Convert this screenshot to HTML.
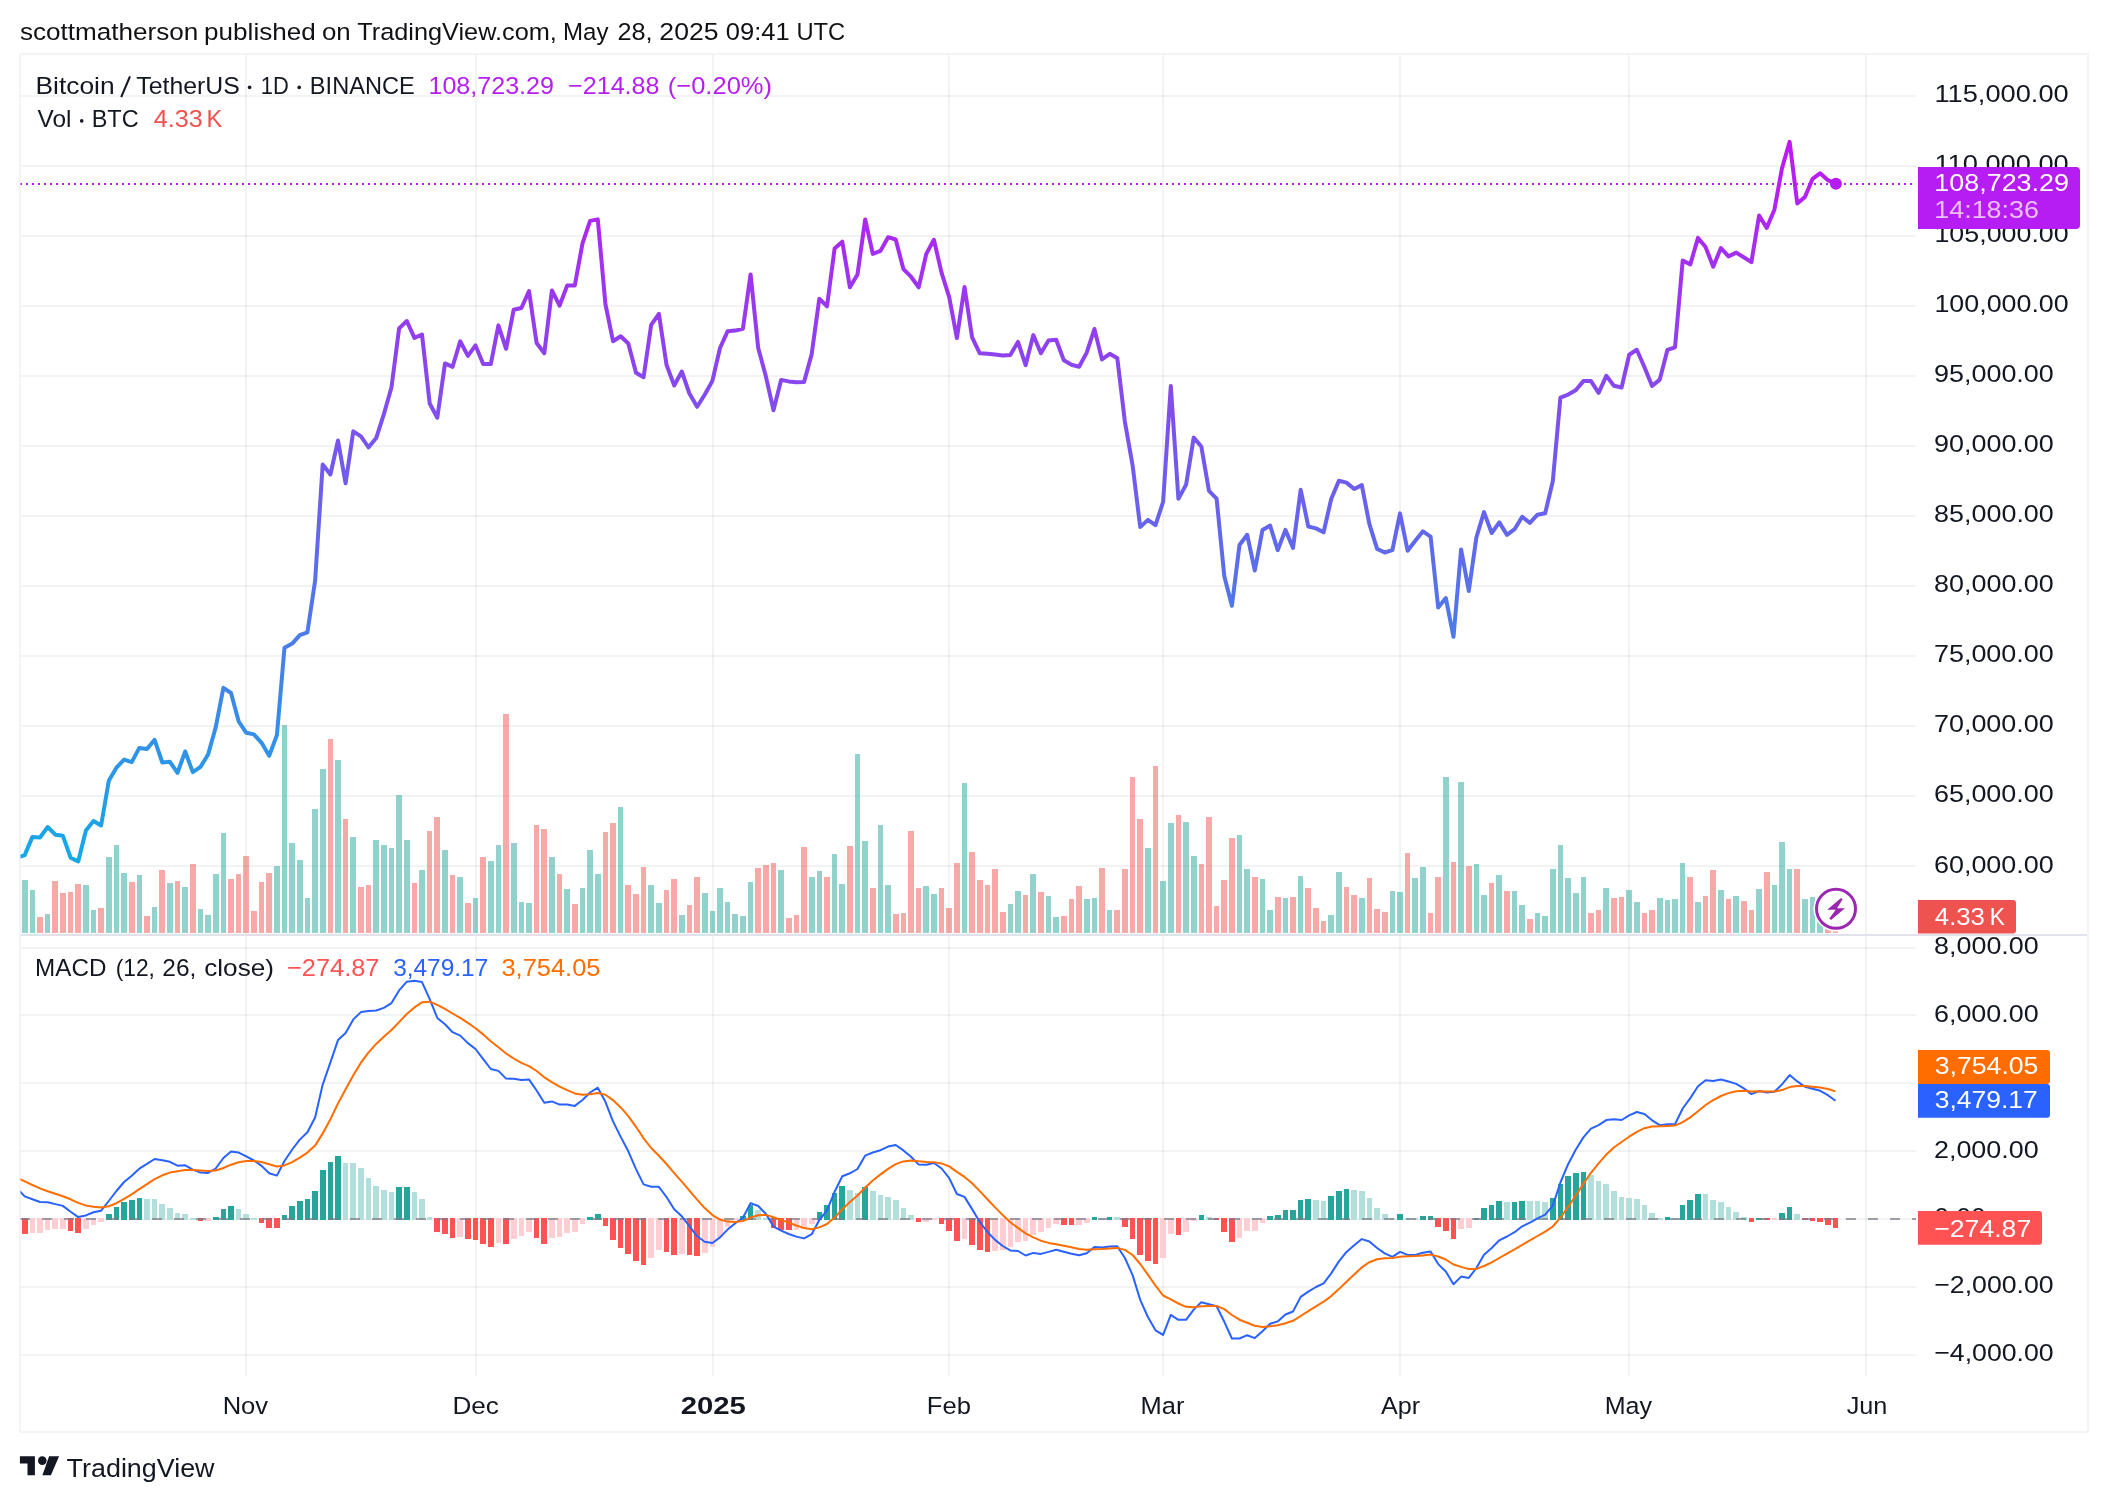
<!DOCTYPE html>
<html><head><meta charset="utf-8"><title>BTCUSDT chart</title>
<style>html,body{margin:0;padding:0;background:#fff;}body{width:2108px;height:1502px;overflow:hidden;font-family:"Liberation Sans",sans-serif;}svg{display:block;will-change:transform;}</style></head>
<body>
<svg width="2108" height="1502" viewBox="0 0 2108 1502" font-family="'Liberation Sans', sans-serif">
<defs>
<linearGradient id="pg" gradientUnits="userSpaceOnUse" x1="0" y1="55" x2="0" y2="934"><stop offset="0" stop-color="#D406F3"/><stop offset="1" stop-color="#04B8E5"/></linearGradient>
<clipPath id="cp"><rect x="20.5" y="55" width="1895.5" height="879"/></clipPath>
<clipPath id="cm"><rect x="20.5" y="936" width="1895.5" height="440"/></clipPath>
</defs>
<rect width="2108" height="1502" fill="#fff"/>
<rect x="21" y="865" width="1895" height="2" fill="rgba(42,46,57,0.06)"/>
<rect x="21" y="795" width="1895" height="2" fill="rgba(42,46,57,0.06)"/>
<rect x="21" y="725" width="1895" height="2" fill="rgba(42,46,57,0.06)"/>
<rect x="21" y="655" width="1895" height="2" fill="rgba(42,46,57,0.06)"/>
<rect x="21" y="585" width="1895" height="2" fill="rgba(42,46,57,0.06)"/>
<rect x="21" y="515" width="1895" height="2" fill="rgba(42,46,57,0.06)"/>
<rect x="21" y="445" width="1895" height="2" fill="rgba(42,46,57,0.06)"/>
<rect x="21" y="375" width="1895" height="2" fill="rgba(42,46,57,0.06)"/>
<rect x="21" y="305" width="1895" height="2" fill="rgba(42,46,57,0.06)"/>
<rect x="21" y="235" width="1895" height="2" fill="rgba(42,46,57,0.06)"/>
<rect x="21" y="165" width="1895" height="2" fill="rgba(42,46,57,0.06)"/>
<rect x="21" y="95" width="1895" height="2" fill="rgba(42,46,57,0.06)"/>
<rect x="21" y="1354" width="1895" height="2" fill="rgba(42,46,57,0.06)"/>
<rect x="21" y="1286" width="1895" height="2" fill="rgba(42,46,57,0.06)"/>
<rect x="21" y="1218" width="1895" height="2" fill="rgba(42,46,57,0.06)"/>
<rect x="21" y="1150" width="1895" height="2" fill="rgba(42,46,57,0.06)"/>
<rect x="21" y="1082" width="1895" height="2" fill="rgba(42,46,57,0.06)"/>
<rect x="21" y="1014" width="1895" height="2" fill="rgba(42,46,57,0.06)"/>
<rect x="21" y="947" width="1895" height="2" fill="rgba(42,46,57,0.06)"/>
<rect x="245" y="55" width="2" height="1321" fill="rgba(42,46,57,0.06)"/>
<rect x="475" y="55" width="2" height="1321" fill="rgba(42,46,57,0.06)"/>
<rect x="712" y="55" width="2" height="1321" fill="rgba(42,46,57,0.06)"/>
<rect x="948" y="55" width="2" height="1321" fill="rgba(42,46,57,0.06)"/>
<rect x="1162" y="55" width="2" height="1321" fill="rgba(42,46,57,0.06)"/>
<rect x="1399" y="55" width="2" height="1321" fill="rgba(42,46,57,0.06)"/>
<rect x="1628" y="55" width="2" height="1321" fill="rgba(42,46,57,0.06)"/>
<rect x="1865" y="55" width="2" height="1321" fill="rgba(42,46,57,0.06)"/>
<rect x="20" y="54" width="2068" height="1378" fill="none" stroke="#F4F4F5" stroke-width="2"/>
<rect x="21" y="934" width="2066" height="2" fill="#E0E3EB"/>
<g clip-path="url(#cp)" shape-rendering="crispEdges">
<rect x="14" y="884" width="6" height="49" fill="#EF5350" fill-opacity="0.5"/>
<rect x="22" y="880" width="6" height="53" fill="#26A69A" fill-opacity="0.5"/>
<rect x="30" y="890" width="5" height="43" fill="#26A69A" fill-opacity="0.5"/>
<rect x="37" y="917" width="6" height="16" fill="#EF5350" fill-opacity="0.5"/>
<rect x="45" y="914" width="5" height="19" fill="#26A69A" fill-opacity="0.5"/>
<rect x="52" y="881" width="6" height="52" fill="#EF5350" fill-opacity="0.5"/>
<rect x="60" y="893" width="6" height="40" fill="#EF5350" fill-opacity="0.5"/>
<rect x="68" y="892" width="5" height="41" fill="#EF5350" fill-opacity="0.5"/>
<rect x="75" y="884" width="6" height="49" fill="#EF5350" fill-opacity="0.5"/>
<rect x="83" y="885" width="6" height="48" fill="#26A69A" fill-opacity="0.5"/>
<rect x="91" y="910" width="5" height="23" fill="#26A69A" fill-opacity="0.5"/>
<rect x="98" y="908" width="6" height="25" fill="#EF5350" fill-opacity="0.5"/>
<rect x="106" y="857" width="6" height="76" fill="#26A69A" fill-opacity="0.5"/>
<rect x="114" y="845" width="5" height="88" fill="#26A69A" fill-opacity="0.5"/>
<rect x="121" y="873" width="6" height="60" fill="#26A69A" fill-opacity="0.5"/>
<rect x="129" y="882" width="6" height="51" fill="#EF5350" fill-opacity="0.5"/>
<rect x="137" y="875" width="5" height="58" fill="#26A69A" fill-opacity="0.5"/>
<rect x="144" y="916" width="6" height="17" fill="#EF5350" fill-opacity="0.5"/>
<rect x="152" y="907" width="5" height="26" fill="#26A69A" fill-opacity="0.5"/>
<rect x="159" y="870" width="6" height="63" fill="#EF5350" fill-opacity="0.5"/>
<rect x="167" y="883" width="6" height="50" fill="#26A69A" fill-opacity="0.5"/>
<rect x="175" y="881" width="5" height="52" fill="#EF5350" fill-opacity="0.5"/>
<rect x="182" y="887" width="6" height="46" fill="#26A69A" fill-opacity="0.5"/>
<rect x="190" y="864" width="6" height="69" fill="#EF5350" fill-opacity="0.5"/>
<rect x="198" y="909" width="5" height="24" fill="#26A69A" fill-opacity="0.5"/>
<rect x="205" y="915" width="6" height="18" fill="#26A69A" fill-opacity="0.5"/>
<rect x="213" y="874" width="6" height="59" fill="#26A69A" fill-opacity="0.5"/>
<rect x="221" y="833" width="5" height="100" fill="#26A69A" fill-opacity="0.5"/>
<rect x="228" y="879" width="6" height="54" fill="#EF5350" fill-opacity="0.5"/>
<rect x="236" y="874" width="5" height="59" fill="#EF5350" fill-opacity="0.5"/>
<rect x="243" y="856" width="6" height="77" fill="#EF5350" fill-opacity="0.5"/>
<rect x="251" y="911" width="6" height="22" fill="#EF5350" fill-opacity="0.5"/>
<rect x="259" y="882" width="5" height="51" fill="#EF5350" fill-opacity="0.5"/>
<rect x="266" y="873" width="6" height="60" fill="#EF5350" fill-opacity="0.5"/>
<rect x="274" y="866" width="6" height="67" fill="#26A69A" fill-opacity="0.5"/>
<rect x="282" y="725" width="5" height="208" fill="#26A69A" fill-opacity="0.5"/>
<rect x="289" y="843" width="6" height="90" fill="#26A69A" fill-opacity="0.5"/>
<rect x="297" y="860" width="6" height="73" fill="#26A69A" fill-opacity="0.5"/>
<rect x="305" y="898" width="5" height="35" fill="#26A69A" fill-opacity="0.5"/>
<rect x="312" y="809" width="6" height="124" fill="#26A69A" fill-opacity="0.5"/>
<rect x="320" y="769" width="6" height="164" fill="#26A69A" fill-opacity="0.5"/>
<rect x="328" y="739" width="5" height="194" fill="#EF5350" fill-opacity="0.5"/>
<rect x="335" y="760" width="6" height="173" fill="#26A69A" fill-opacity="0.5"/>
<rect x="343" y="819" width="5" height="114" fill="#EF5350" fill-opacity="0.5"/>
<rect x="350" y="837" width="6" height="96" fill="#26A69A" fill-opacity="0.5"/>
<rect x="358" y="887" width="6" height="46" fill="#EF5350" fill-opacity="0.5"/>
<rect x="366" y="885" width="5" height="48" fill="#EF5350" fill-opacity="0.5"/>
<rect x="373" y="840" width="6" height="93" fill="#26A69A" fill-opacity="0.5"/>
<rect x="381" y="845" width="6" height="88" fill="#26A69A" fill-opacity="0.5"/>
<rect x="389" y="848" width="5" height="85" fill="#26A69A" fill-opacity="0.5"/>
<rect x="396" y="795" width="6" height="138" fill="#26A69A" fill-opacity="0.5"/>
<rect x="404" y="840" width="6" height="93" fill="#26A69A" fill-opacity="0.5"/>
<rect x="412" y="883" width="5" height="50" fill="#EF5350" fill-opacity="0.5"/>
<rect x="419" y="870" width="6" height="63" fill="#26A69A" fill-opacity="0.5"/>
<rect x="427" y="831" width="5" height="102" fill="#EF5350" fill-opacity="0.5"/>
<rect x="434" y="817" width="6" height="116" fill="#EF5350" fill-opacity="0.5"/>
<rect x="442" y="850" width="6" height="83" fill="#26A69A" fill-opacity="0.5"/>
<rect x="450" y="875" width="5" height="58" fill="#EF5350" fill-opacity="0.5"/>
<rect x="457" y="877" width="6" height="56" fill="#26A69A" fill-opacity="0.5"/>
<rect x="465" y="903" width="6" height="30" fill="#EF5350" fill-opacity="0.5"/>
<rect x="473" y="898" width="5" height="35" fill="#26A69A" fill-opacity="0.5"/>
<rect x="480" y="857" width="6" height="76" fill="#EF5350" fill-opacity="0.5"/>
<rect x="488" y="861" width="6" height="72" fill="#26A69A" fill-opacity="0.5"/>
<rect x="496" y="845" width="5" height="88" fill="#26A69A" fill-opacity="0.5"/>
<rect x="503" y="714" width="6" height="219" fill="#EF5350" fill-opacity="0.5"/>
<rect x="511" y="843" width="6" height="90" fill="#26A69A" fill-opacity="0.5"/>
<rect x="519" y="902" width="5" height="31" fill="#26A69A" fill-opacity="0.5"/>
<rect x="526" y="903" width="6" height="30" fill="#26A69A" fill-opacity="0.5"/>
<rect x="534" y="825" width="5" height="108" fill="#EF5350" fill-opacity="0.5"/>
<rect x="541" y="829" width="6" height="104" fill="#EF5350" fill-opacity="0.5"/>
<rect x="549" y="857" width="6" height="76" fill="#26A69A" fill-opacity="0.5"/>
<rect x="557" y="874" width="5" height="59" fill="#EF5350" fill-opacity="0.5"/>
<rect x="564" y="889" width="6" height="44" fill="#26A69A" fill-opacity="0.5"/>
<rect x="572" y="904" width="6" height="29" fill="#EF5350" fill-opacity="0.5"/>
<rect x="580" y="888" width="5" height="45" fill="#26A69A" fill-opacity="0.5"/>
<rect x="587" y="850" width="6" height="83" fill="#26A69A" fill-opacity="0.5"/>
<rect x="595" y="874" width="6" height="59" fill="#26A69A" fill-opacity="0.5"/>
<rect x="603" y="832" width="5" height="101" fill="#EF5350" fill-opacity="0.5"/>
<rect x="610" y="823" width="6" height="110" fill="#EF5350" fill-opacity="0.5"/>
<rect x="618" y="807" width="5" height="126" fill="#26A69A" fill-opacity="0.5"/>
<rect x="625" y="885" width="6" height="48" fill="#EF5350" fill-opacity="0.5"/>
<rect x="633" y="894" width="6" height="39" fill="#EF5350" fill-opacity="0.5"/>
<rect x="641" y="867" width="5" height="66" fill="#EF5350" fill-opacity="0.5"/>
<rect x="648" y="885" width="6" height="48" fill="#26A69A" fill-opacity="0.5"/>
<rect x="656" y="903" width="6" height="30" fill="#26A69A" fill-opacity="0.5"/>
<rect x="664" y="890" width="5" height="43" fill="#EF5350" fill-opacity="0.5"/>
<rect x="671" y="879" width="6" height="54" fill="#EF5350" fill-opacity="0.5"/>
<rect x="679" y="915" width="6" height="18" fill="#26A69A" fill-opacity="0.5"/>
<rect x="687" y="905" width="5" height="28" fill="#EF5350" fill-opacity="0.5"/>
<rect x="694" y="877" width="6" height="56" fill="#EF5350" fill-opacity="0.5"/>
<rect x="702" y="893" width="6" height="40" fill="#26A69A" fill-opacity="0.5"/>
<rect x="710" y="911" width="5" height="22" fill="#26A69A" fill-opacity="0.5"/>
<rect x="717" y="888" width="6" height="45" fill="#26A69A" fill-opacity="0.5"/>
<rect x="725" y="902" width="5" height="31" fill="#26A69A" fill-opacity="0.5"/>
<rect x="732" y="914" width="6" height="19" fill="#26A69A" fill-opacity="0.5"/>
<rect x="740" y="916" width="6" height="17" fill="#26A69A" fill-opacity="0.5"/>
<rect x="748" y="882" width="5" height="51" fill="#26A69A" fill-opacity="0.5"/>
<rect x="755" y="868" width="6" height="65" fill="#EF5350" fill-opacity="0.5"/>
<rect x="763" y="865" width="6" height="68" fill="#EF5350" fill-opacity="0.5"/>
<rect x="771" y="863" width="5" height="70" fill="#EF5350" fill-opacity="0.5"/>
<rect x="778" y="870" width="6" height="63" fill="#26A69A" fill-opacity="0.5"/>
<rect x="786" y="918" width="6" height="15" fill="#EF5350" fill-opacity="0.5"/>
<rect x="794" y="915" width="5" height="18" fill="#EF5350" fill-opacity="0.5"/>
<rect x="801" y="847" width="6" height="86" fill="#EF5350" fill-opacity="0.5"/>
<rect x="809" y="877" width="6" height="56" fill="#26A69A" fill-opacity="0.5"/>
<rect x="817" y="871" width="5" height="62" fill="#26A69A" fill-opacity="0.5"/>
<rect x="824" y="877" width="6" height="56" fill="#EF5350" fill-opacity="0.5"/>
<rect x="832" y="854" width="5" height="79" fill="#26A69A" fill-opacity="0.5"/>
<rect x="839" y="884" width="6" height="49" fill="#26A69A" fill-opacity="0.5"/>
<rect x="847" y="846" width="6" height="87" fill="#EF5350" fill-opacity="0.5"/>
<rect x="855" y="754" width="5" height="179" fill="#26A69A" fill-opacity="0.5"/>
<rect x="862" y="841" width="6" height="92" fill="#26A69A" fill-opacity="0.5"/>
<rect x="870" y="888" width="6" height="45" fill="#EF5350" fill-opacity="0.5"/>
<rect x="878" y="825" width="5" height="108" fill="#26A69A" fill-opacity="0.5"/>
<rect x="885" y="885" width="6" height="48" fill="#26A69A" fill-opacity="0.5"/>
<rect x="893" y="914" width="6" height="19" fill="#EF5350" fill-opacity="0.5"/>
<rect x="901" y="913" width="5" height="20" fill="#EF5350" fill-opacity="0.5"/>
<rect x="908" y="831" width="6" height="102" fill="#EF5350" fill-opacity="0.5"/>
<rect x="916" y="888" width="5" height="45" fill="#EF5350" fill-opacity="0.5"/>
<rect x="923" y="886" width="6" height="47" fill="#26A69A" fill-opacity="0.5"/>
<rect x="931" y="894" width="6" height="39" fill="#26A69A" fill-opacity="0.5"/>
<rect x="939" y="888" width="5" height="45" fill="#EF5350" fill-opacity="0.5"/>
<rect x="946" y="908" width="6" height="25" fill="#EF5350" fill-opacity="0.5"/>
<rect x="954" y="863" width="6" height="70" fill="#EF5350" fill-opacity="0.5"/>
<rect x="962" y="783" width="5" height="150" fill="#26A69A" fill-opacity="0.5"/>
<rect x="969" y="852" width="6" height="81" fill="#EF5350" fill-opacity="0.5"/>
<rect x="977" y="880" width="6" height="53" fill="#EF5350" fill-opacity="0.5"/>
<rect x="985" y="885" width="5" height="48" fill="#EF5350" fill-opacity="0.5"/>
<rect x="992" y="869" width="6" height="64" fill="#EF5350" fill-opacity="0.5"/>
<rect x="1000" y="912" width="6" height="21" fill="#EF5350" fill-opacity="0.5"/>
<rect x="1008" y="904" width="5" height="29" fill="#26A69A" fill-opacity="0.5"/>
<rect x="1015" y="891" width="6" height="42" fill="#26A69A" fill-opacity="0.5"/>
<rect x="1023" y="895" width="5" height="38" fill="#EF5350" fill-opacity="0.5"/>
<rect x="1030" y="874" width="6" height="59" fill="#26A69A" fill-opacity="0.5"/>
<rect x="1038" y="892" width="6" height="41" fill="#EF5350" fill-opacity="0.5"/>
<rect x="1046" y="896" width="5" height="37" fill="#26A69A" fill-opacity="0.5"/>
<rect x="1053" y="917" width="6" height="16" fill="#26A69A" fill-opacity="0.5"/>
<rect x="1061" y="916" width="6" height="17" fill="#EF5350" fill-opacity="0.5"/>
<rect x="1069" y="899" width="5" height="34" fill="#EF5350" fill-opacity="0.5"/>
<rect x="1076" y="886" width="6" height="47" fill="#EF5350" fill-opacity="0.5"/>
<rect x="1084" y="899" width="6" height="34" fill="#26A69A" fill-opacity="0.5"/>
<rect x="1092" y="898" width="5" height="35" fill="#26A69A" fill-opacity="0.5"/>
<rect x="1099" y="868" width="6" height="65" fill="#EF5350" fill-opacity="0.5"/>
<rect x="1107" y="910" width="5" height="23" fill="#26A69A" fill-opacity="0.5"/>
<rect x="1114" y="910" width="6" height="23" fill="#EF5350" fill-opacity="0.5"/>
<rect x="1122" y="869" width="6" height="64" fill="#EF5350" fill-opacity="0.5"/>
<rect x="1130" y="777" width="5" height="156" fill="#EF5350" fill-opacity="0.5"/>
<rect x="1137" y="819" width="6" height="114" fill="#EF5350" fill-opacity="0.5"/>
<rect x="1145" y="848" width="6" height="85" fill="#26A69A" fill-opacity="0.5"/>
<rect x="1153" y="766" width="5" height="167" fill="#EF5350" fill-opacity="0.5"/>
<rect x="1160" y="881" width="6" height="52" fill="#26A69A" fill-opacity="0.5"/>
<rect x="1168" y="823" width="6" height="110" fill="#26A69A" fill-opacity="0.5"/>
<rect x="1176" y="815" width="5" height="118" fill="#EF5350" fill-opacity="0.5"/>
<rect x="1183" y="822" width="6" height="111" fill="#26A69A" fill-opacity="0.5"/>
<rect x="1191" y="856" width="6" height="77" fill="#26A69A" fill-opacity="0.5"/>
<rect x="1199" y="864" width="5" height="69" fill="#EF5350" fill-opacity="0.5"/>
<rect x="1206" y="817" width="6" height="116" fill="#EF5350" fill-opacity="0.5"/>
<rect x="1214" y="906" width="5" height="27" fill="#EF5350" fill-opacity="0.5"/>
<rect x="1221" y="880" width="6" height="53" fill="#EF5350" fill-opacity="0.5"/>
<rect x="1229" y="838" width="6" height="95" fill="#EF5350" fill-opacity="0.5"/>
<rect x="1237" y="835" width="5" height="98" fill="#26A69A" fill-opacity="0.5"/>
<rect x="1244" y="869" width="6" height="64" fill="#26A69A" fill-opacity="0.5"/>
<rect x="1252" y="877" width="6" height="56" fill="#EF5350" fill-opacity="0.5"/>
<rect x="1260" y="879" width="5" height="54" fill="#26A69A" fill-opacity="0.5"/>
<rect x="1267" y="910" width="6" height="23" fill="#26A69A" fill-opacity="0.5"/>
<rect x="1275" y="897" width="6" height="36" fill="#EF5350" fill-opacity="0.5"/>
<rect x="1283" y="898" width="5" height="35" fill="#26A69A" fill-opacity="0.5"/>
<rect x="1290" y="897" width="6" height="36" fill="#EF5350" fill-opacity="0.5"/>
<rect x="1298" y="876" width="5" height="57" fill="#26A69A" fill-opacity="0.5"/>
<rect x="1305" y="888" width="6" height="45" fill="#EF5350" fill-opacity="0.5"/>
<rect x="1313" y="908" width="6" height="25" fill="#EF5350" fill-opacity="0.5"/>
<rect x="1321" y="921" width="5" height="12" fill="#EF5350" fill-opacity="0.5"/>
<rect x="1328" y="915" width="6" height="18" fill="#26A69A" fill-opacity="0.5"/>
<rect x="1336" y="872" width="6" height="61" fill="#26A69A" fill-opacity="0.5"/>
<rect x="1344" y="887" width="5" height="46" fill="#EF5350" fill-opacity="0.5"/>
<rect x="1351" y="895" width="6" height="38" fill="#EF5350" fill-opacity="0.5"/>
<rect x="1359" y="898" width="6" height="35" fill="#26A69A" fill-opacity="0.5"/>
<rect x="1367" y="878" width="5" height="55" fill="#EF5350" fill-opacity="0.5"/>
<rect x="1374" y="909" width="6" height="24" fill="#EF5350" fill-opacity="0.5"/>
<rect x="1382" y="912" width="6" height="21" fill="#EF5350" fill-opacity="0.5"/>
<rect x="1390" y="891" width="5" height="42" fill="#26A69A" fill-opacity="0.5"/>
<rect x="1397" y="892" width="6" height="41" fill="#26A69A" fill-opacity="0.5"/>
<rect x="1405" y="853" width="5" height="80" fill="#EF5350" fill-opacity="0.5"/>
<rect x="1412" y="878" width="6" height="55" fill="#26A69A" fill-opacity="0.5"/>
<rect x="1420" y="867" width="6" height="66" fill="#26A69A" fill-opacity="0.5"/>
<rect x="1428" y="913" width="5" height="20" fill="#EF5350" fill-opacity="0.5"/>
<rect x="1435" y="877" width="6" height="56" fill="#EF5350" fill-opacity="0.5"/>
<rect x="1443" y="777" width="6" height="156" fill="#26A69A" fill-opacity="0.5"/>
<rect x="1451" y="862" width="5" height="71" fill="#EF5350" fill-opacity="0.5"/>
<rect x="1458" y="782" width="6" height="151" fill="#26A69A" fill-opacity="0.5"/>
<rect x="1466" y="866" width="6" height="67" fill="#EF5350" fill-opacity="0.5"/>
<rect x="1474" y="864" width="5" height="69" fill="#26A69A" fill-opacity="0.5"/>
<rect x="1481" y="895" width="6" height="38" fill="#26A69A" fill-opacity="0.5"/>
<rect x="1489" y="883" width="5" height="50" fill="#EF5350" fill-opacity="0.5"/>
<rect x="1496" y="875" width="6" height="58" fill="#26A69A" fill-opacity="0.5"/>
<rect x="1504" y="891" width="6" height="42" fill="#EF5350" fill-opacity="0.5"/>
<rect x="1512" y="891" width="5" height="42" fill="#26A69A" fill-opacity="0.5"/>
<rect x="1519" y="905" width="6" height="28" fill="#26A69A" fill-opacity="0.5"/>
<rect x="1527" y="919" width="6" height="14" fill="#EF5350" fill-opacity="0.5"/>
<rect x="1535" y="913" width="5" height="20" fill="#26A69A" fill-opacity="0.5"/>
<rect x="1542" y="916" width="6" height="17" fill="#26A69A" fill-opacity="0.5"/>
<rect x="1550" y="869" width="6" height="64" fill="#26A69A" fill-opacity="0.5"/>
<rect x="1558" y="845" width="5" height="88" fill="#26A69A" fill-opacity="0.5"/>
<rect x="1565" y="878" width="6" height="55" fill="#26A69A" fill-opacity="0.5"/>
<rect x="1573" y="893" width="6" height="40" fill="#26A69A" fill-opacity="0.5"/>
<rect x="1581" y="877" width="5" height="56" fill="#26A69A" fill-opacity="0.5"/>
<rect x="1588" y="913" width="6" height="20" fill="#EF5350" fill-opacity="0.5"/>
<rect x="1596" y="910" width="5" height="23" fill="#EF5350" fill-opacity="0.5"/>
<rect x="1603" y="888" width="6" height="45" fill="#26A69A" fill-opacity="0.5"/>
<rect x="1611" y="898" width="6" height="35" fill="#EF5350" fill-opacity="0.5"/>
<rect x="1619" y="897" width="5" height="36" fill="#EF5350" fill-opacity="0.5"/>
<rect x="1626" y="890" width="6" height="43" fill="#26A69A" fill-opacity="0.5"/>
<rect x="1634" y="902" width="6" height="31" fill="#26A69A" fill-opacity="0.5"/>
<rect x="1642" y="913" width="5" height="20" fill="#EF5350" fill-opacity="0.5"/>
<rect x="1649" y="910" width="6" height="23" fill="#EF5350" fill-opacity="0.5"/>
<rect x="1657" y="898" width="6" height="35" fill="#26A69A" fill-opacity="0.5"/>
<rect x="1665" y="900" width="5" height="33" fill="#26A69A" fill-opacity="0.5"/>
<rect x="1672" y="899" width="6" height="34" fill="#26A69A" fill-opacity="0.5"/>
<rect x="1680" y="863" width="5" height="70" fill="#26A69A" fill-opacity="0.5"/>
<rect x="1687" y="877" width="6" height="56" fill="#EF5350" fill-opacity="0.5"/>
<rect x="1695" y="902" width="6" height="31" fill="#26A69A" fill-opacity="0.5"/>
<rect x="1703" y="896" width="5" height="37" fill="#EF5350" fill-opacity="0.5"/>
<rect x="1710" y="870" width="6" height="63" fill="#EF5350" fill-opacity="0.5"/>
<rect x="1718" y="890" width="6" height="43" fill="#26A69A" fill-opacity="0.5"/>
<rect x="1726" y="899" width="5" height="34" fill="#EF5350" fill-opacity="0.5"/>
<rect x="1733" y="896" width="6" height="37" fill="#26A69A" fill-opacity="0.5"/>
<rect x="1741" y="901" width="6" height="32" fill="#EF5350" fill-opacity="0.5"/>
<rect x="1749" y="910" width="5" height="23" fill="#EF5350" fill-opacity="0.5"/>
<rect x="1756" y="889" width="6" height="44" fill="#26A69A" fill-opacity="0.5"/>
<rect x="1764" y="872" width="6" height="61" fill="#EF5350" fill-opacity="0.5"/>
<rect x="1772" y="885" width="5" height="48" fill="#26A69A" fill-opacity="0.5"/>
<rect x="1779" y="842" width="6" height="91" fill="#26A69A" fill-opacity="0.5"/>
<rect x="1787" y="869" width="5" height="64" fill="#26A69A" fill-opacity="0.5"/>
<rect x="1794" y="869" width="6" height="64" fill="#EF5350" fill-opacity="0.5"/>
<rect x="1802" y="899" width="6" height="34" fill="#26A69A" fill-opacity="0.5"/>
<rect x="1810" y="897" width="5" height="36" fill="#26A69A" fill-opacity="0.5"/>
<rect x="1817" y="908" width="6" height="25" fill="#26A69A" fill-opacity="0.5"/>
<rect x="1825" y="903" width="6" height="30" fill="#EF5350" fill-opacity="0.5"/>
<rect x="1833" y="924" width="5" height="9" fill="#EF5350" fill-opacity="0.5"/>
</g>
<polyline clip-path="url(#cp)" points="17.1,857.7 24.7,855.1 32.4,836.9 40.0,837.5 47.7,827.0 55.3,834.7 62.9,835.8 70.6,857.7 78.2,861.4 85.9,830.6 93.5,821.1 101.1,825.5 108.8,780.8 116.4,767.7 124.1,759.6 131.7,762.1 139.3,747.9 147.0,749.1 154.6,739.8 162.3,762.5 169.9,761.8 177.5,772.8 185.2,751.5 192.8,772.1 200.5,766.9 208.1,754.5 215.7,727.4 223.4,687.8 231.0,693.0 238.7,721.5 246.3,732.8 253.9,734.4 261.6,742.8 269.2,755.8 276.9,735.1 284.5,647.7 292.2,643.6 299.8,635.1 307.4,632.4 315.1,580.8 322.7,464.6 330.4,474.5 338.0,440.5 345.6,483.3 353.3,431.3 360.9,436.4 368.6,447.3 376.2,438.1 383.8,414.4 391.5,387.2 399.1,328.4 406.8,321.0 414.4,337.9 422.0,334.5 429.7,403.5 437.3,417.8 445.0,363.4 452.6,366.8 460.2,341.3 467.9,355.9 475.5,345.4 483.2,364.1 490.8,364.1 498.4,325.4 506.1,348.8 513.7,309.7 521.4,308.0 529.0,291.1 536.6,343.0 544.3,353.2 551.9,290.4 559.6,305.6 567.2,285.5 574.8,285.5 582.5,243.3 590.1,220.9 597.8,219.4 605.4,304.0 613.0,341.2 620.7,336.2 628.3,343.5 636.0,372.8 643.6,377.3 651.2,324.8 658.9,313.9 666.5,364.7 674.2,385.5 681.8,371.5 689.4,393.5 697.1,406.8 704.7,394.8 712.4,380.9 720.0,348.0 727.6,331.3 735.3,330.6 742.9,328.7 750.6,274.4 758.2,348.0 765.8,376.1 773.5,410.2 781.1,379.9 788.8,381.4 796.4,382.2 804.1,381.9 811.7,354.1 819.3,298.7 827.0,306.3 834.6,248.6 842.3,241.7 849.9,287.3 857.5,274.4 865.2,219.4 872.8,253.9 880.5,250.9 888.1,237.2 895.7,239.5 903.4,269.1 911.0,276.7 918.7,287.3 926.3,253.9 933.9,239.8 941.6,272.9 949.2,297.2 956.9,338.1 964.5,287.0 972.1,337.4 979.8,353.3 987.4,353.8 995.1,354.5 1002.7,355.6 1010.3,355.1 1018.0,341.9 1025.6,365.2 1033.3,335.1 1040.9,353.3 1048.5,340.4 1056.2,339.7 1063.8,360.2 1071.5,364.7 1079.1,366.7 1086.7,352.6 1094.4,329.0 1102.0,359.4 1109.7,353.8 1117.3,358.3 1124.9,421.8 1132.6,465.3 1140.2,527.1 1147.9,519.9 1155.5,525.1 1163.1,501.9 1170.8,386.1 1178.4,498.7 1186.1,484.6 1193.7,437.6 1201.3,446.5 1209.0,490.9 1216.6,498.7 1224.3,576.3 1231.9,605.7 1239.5,545.0 1247.2,534.8 1254.8,570.5 1262.5,529.9 1270.1,525.5 1277.7,550.2 1285.4,529.9 1293.0,547.9 1300.7,489.8 1308.3,526.5 1316.0,528.4 1323.6,532.3 1331.2,499.0 1338.9,480.7 1346.5,482.6 1354.2,489.0 1361.8,485.1 1369.4,524.2 1377.1,548.9 1384.7,552.5 1392.4,550.2 1400.0,513.4 1407.6,550.7 1415.3,540.7 1422.9,531.3 1430.6,536.6 1438.2,607.6 1445.8,598.0 1453.5,636.8 1461.1,549.4 1468.8,591.0 1476.4,537.3 1484.0,512.1 1491.7,533.0 1499.3,522.4 1507.0,534.9 1514.6,529.2 1522.2,516.8 1529.9,522.8 1537.5,514.7 1545.2,513.2 1552.8,481.3 1560.4,397.7 1568.1,394.6 1575.7,390.3 1583.4,381.1 1591.0,381.1 1598.6,392.8 1606.3,375.8 1613.9,385.8 1621.6,387.5 1629.2,354.7 1636.8,349.8 1644.5,367.3 1652.1,385.9 1659.8,379.6 1667.4,349.9 1675.0,347.4 1682.7,260.5 1690.3,264.4 1698.0,237.9 1705.6,247.1 1713.2,266.7 1720.9,248.0 1728.5,256.4 1736.2,252.6 1743.8,257.3 1751.4,262.1 1759.1,215.5 1766.7,227.9 1774.4,209.7 1782.0,168.2 1789.6,141.8 1797.3,203.5 1804.9,197.0 1812.6,178.8 1820.2,173.2 1827.9,180.2 1835.5,183.6" fill="none" stroke="url(#pg)" stroke-width="4" stroke-linejoin="round" stroke-linecap="round"/>
<line x1="20" y1="184" x2="1916" y2="184" stroke="#B61DF3" stroke-width="2" stroke-dasharray="2 4" clip-path="url(#cp)"/>
<circle cx="1835.9" cy="183.8" r="6" fill="#B61DF3"/>
<g clip-path="url(#cm)">
<g shape-rendering="crispEdges">
<rect x="14" y="1218" width="6" height="12" fill="#FF5252"/>
<rect x="22" y="1218" width="6" height="16" fill="#FF5252"/>
<rect x="30" y="1218" width="5" height="15" fill="#FFCDD2"/>
<rect x="37" y="1218" width="6" height="15" fill="#FFCDD2"/>
<rect x="45" y="1218" width="5" height="12" fill="#FFCDD2"/>
<rect x="52" y="1218" width="6" height="11" fill="#FFCDD2"/>
<rect x="60" y="1218" width="6" height="11" fill="#FFCDD2"/>
<rect x="68" y="1218" width="5" height="13" fill="#FF5252"/>
<rect x="75" y="1218" width="6" height="15" fill="#FF5252"/>
<rect x="83" y="1218" width="6" height="11" fill="#FFCDD2"/>
<rect x="91" y="1218" width="5" height="7" fill="#FFCDD2"/>
<rect x="98" y="1218" width="6" height="4" fill="#FFCDD2"/>
<rect x="106" y="1214" width="6" height="6" fill="#26A69A"/>
<rect x="114" y="1207" width="5" height="13" fill="#26A69A"/>
<rect x="121" y="1202" width="6" height="18" fill="#26A69A"/>
<rect x="129" y="1200" width="6" height="20" fill="#26A69A"/>
<rect x="137" y="1198" width="5" height="22" fill="#26A69A"/>
<rect x="144" y="1199" width="6" height="21" fill="#B2DFDB"/>
<rect x="152" y="1199" width="5" height="21" fill="#B2DFDB"/>
<rect x="159" y="1204" width="6" height="16" fill="#B2DFDB"/>
<rect x="167" y="1208" width="6" height="12" fill="#B2DFDB"/>
<rect x="175" y="1213" width="5" height="7" fill="#B2DFDB"/>
<rect x="182" y="1214" width="6" height="6" fill="#B2DFDB"/>
<rect x="190" y="1218" width="6" height="2" fill="#B2DFDB"/>
<rect x="198" y="1218" width="5" height="3" fill="#FF5252"/>
<rect x="205" y="1218" width="6" height="3" fill="#FFCDD2"/>
<rect x="213" y="1217" width="6" height="3" fill="#26A69A"/>
<rect x="221" y="1209" width="5" height="11" fill="#26A69A"/>
<rect x="228" y="1206" width="6" height="14" fill="#26A69A"/>
<rect x="236" y="1209" width="5" height="11" fill="#B2DFDB"/>
<rect x="243" y="1214" width="6" height="6" fill="#B2DFDB"/>
<rect x="251" y="1218" width="6" height="2" fill="#B2DFDB"/>
<rect x="259" y="1218" width="5" height="5" fill="#FF5252"/>
<rect x="266" y="1218" width="6" height="10" fill="#FF5252"/>
<rect x="274" y="1218" width="6" height="10" fill="#FF5252"/>
<rect x="282" y="1215" width="5" height="5" fill="#26A69A"/>
<rect x="289" y="1206" width="6" height="14" fill="#26A69A"/>
<rect x="297" y="1201" width="6" height="19" fill="#26A69A"/>
<rect x="305" y="1199" width="5" height="21" fill="#26A69A"/>
<rect x="312" y="1191" width="6" height="29" fill="#26A69A"/>
<rect x="320" y="1170" width="6" height="50" fill="#26A69A"/>
<rect x="328" y="1162" width="5" height="58" fill="#26A69A"/>
<rect x="335" y="1156" width="6" height="64" fill="#26A69A"/>
<rect x="343" y="1163" width="5" height="57" fill="#B2DFDB"/>
<rect x="350" y="1163" width="6" height="57" fill="#B2DFDB"/>
<rect x="358" y="1168" width="6" height="52" fill="#B2DFDB"/>
<rect x="366" y="1178" width="5" height="42" fill="#B2DFDB"/>
<rect x="373" y="1186" width="6" height="34" fill="#B2DFDB"/>
<rect x="381" y="1190" width="6" height="30" fill="#B2DFDB"/>
<rect x="389" y="1192" width="5" height="28" fill="#B2DFDB"/>
<rect x="396" y="1187" width="6" height="33" fill="#26A69A"/>
<rect x="404" y="1187" width="6" height="33" fill="#26A69A"/>
<rect x="412" y="1192" width="5" height="28" fill="#B2DFDB"/>
<rect x="419" y="1199" width="6" height="21" fill="#B2DFDB"/>
<rect x="427" y="1217" width="5" height="3" fill="#B2DFDB"/>
<rect x="434" y="1218" width="6" height="14" fill="#FF5252"/>
<rect x="442" y="1218" width="6" height="16" fill="#FF5252"/>
<rect x="450" y="1218" width="5" height="20" fill="#FF5252"/>
<rect x="457" y="1218" width="6" height="19" fill="#FFCDD2"/>
<rect x="465" y="1218" width="6" height="21" fill="#FF5252"/>
<rect x="473" y="1218" width="5" height="22" fill="#FF5252"/>
<rect x="480" y="1218" width="6" height="26" fill="#FF5252"/>
<rect x="488" y="1218" width="6" height="29" fill="#FF5252"/>
<rect x="496" y="1218" width="5" height="25" fill="#FFCDD2"/>
<rect x="503" y="1218" width="6" height="26" fill="#FF5252"/>
<rect x="511" y="1218" width="6" height="21" fill="#FFCDD2"/>
<rect x="519" y="1218" width="5" height="18" fill="#FFCDD2"/>
<rect x="526" y="1218" width="6" height="14" fill="#FFCDD2"/>
<rect x="534" y="1218" width="5" height="20" fill="#FF5252"/>
<rect x="541" y="1218" width="6" height="26" fill="#FF5252"/>
<rect x="549" y="1218" width="6" height="20" fill="#FFCDD2"/>
<rect x="557" y="1218" width="5" height="19" fill="#FFCDD2"/>
<rect x="564" y="1218" width="6" height="15" fill="#FFCDD2"/>
<rect x="572" y="1218" width="6" height="14" fill="#FFCDD2"/>
<rect x="580" y="1218" width="5" height="6" fill="#FFCDD2"/>
<rect x="587" y="1217" width="6" height="3" fill="#26A69A"/>
<rect x="595" y="1214" width="6" height="6" fill="#26A69A"/>
<rect x="603" y="1218" width="5" height="8" fill="#FF5252"/>
<rect x="610" y="1218" width="6" height="22" fill="#FF5252"/>
<rect x="618" y="1218" width="5" height="30" fill="#FF5252"/>
<rect x="625" y="1218" width="6" height="36" fill="#FF5252"/>
<rect x="633" y="1218" width="6" height="43" fill="#FF5252"/>
<rect x="641" y="1218" width="5" height="47" fill="#FF5252"/>
<rect x="648" y="1218" width="6" height="40" fill="#FFCDD2"/>
<rect x="656" y="1218" width="6" height="32" fill="#FFCDD2"/>
<rect x="664" y="1218" width="5" height="34" fill="#FF5252"/>
<rect x="671" y="1218" width="6" height="37" fill="#FF5252"/>
<rect x="679" y="1218" width="6" height="36" fill="#FFCDD2"/>
<rect x="687" y="1218" width="5" height="37" fill="#FF5252"/>
<rect x="694" y="1218" width="6" height="38" fill="#FF5252"/>
<rect x="702" y="1218" width="6" height="35" fill="#FFCDD2"/>
<rect x="710" y="1218" width="5" height="29" fill="#FFCDD2"/>
<rect x="717" y="1218" width="6" height="19" fill="#FFCDD2"/>
<rect x="725" y="1218" width="5" height="9" fill="#FFCDD2"/>
<rect x="732" y="1218" width="6" height="2" fill="#FFCDD2"/>
<rect x="740" y="1216" width="6" height="4" fill="#26A69A"/>
<rect x="748" y="1205" width="5" height="15" fill="#26A69A"/>
<rect x="755" y="1210" width="6" height="10" fill="#B2DFDB"/>
<rect x="763" y="1218" width="6" height="2" fill="#B2DFDB"/>
<rect x="771" y="1218" width="5" height="10" fill="#FF5252"/>
<rect x="778" y="1218" width="6" height="12" fill="#FF5252"/>
<rect x="786" y="1218" width="6" height="12" fill="#FF5252"/>
<rect x="794" y="1218" width="5" height="12" fill="#FFCDD2"/>
<rect x="801" y="1218" width="6" height="11" fill="#FFCDD2"/>
<rect x="809" y="1218" width="6" height="6" fill="#FFCDD2"/>
<rect x="817" y="1212" width="5" height="8" fill="#26A69A"/>
<rect x="824" y="1205" width="6" height="15" fill="#26A69A"/>
<rect x="832" y="1193" width="5" height="27" fill="#26A69A"/>
<rect x="839" y="1186" width="6" height="34" fill="#26A69A"/>
<rect x="847" y="1190" width="6" height="30" fill="#B2DFDB"/>
<rect x="855" y="1193" width="5" height="27" fill="#B2DFDB"/>
<rect x="862" y="1187" width="6" height="33" fill="#26A69A"/>
<rect x="870" y="1191" width="6" height="29" fill="#B2DFDB"/>
<rect x="878" y="1195" width="5" height="25" fill="#B2DFDB"/>
<rect x="885" y="1197" width="6" height="23" fill="#B2DFDB"/>
<rect x="893" y="1200" width="6" height="20" fill="#B2DFDB"/>
<rect x="901" y="1208" width="5" height="12" fill="#B2DFDB"/>
<rect x="908" y="1215" width="6" height="5" fill="#B2DFDB"/>
<rect x="916" y="1218" width="5" height="4" fill="#FF5252"/>
<rect x="923" y="1218" width="6" height="4" fill="#FFCDD2"/>
<rect x="931" y="1218" width="6" height="2" fill="#FFCDD2"/>
<rect x="939" y="1218" width="5" height="6" fill="#FF5252"/>
<rect x="946" y="1218" width="6" height="13" fill="#FF5252"/>
<rect x="954" y="1218" width="6" height="23" fill="#FF5252"/>
<rect x="962" y="1218" width="5" height="21" fill="#FFCDD2"/>
<rect x="969" y="1218" width="6" height="27" fill="#FF5252"/>
<rect x="977" y="1218" width="6" height="32" fill="#FF5252"/>
<rect x="985" y="1218" width="5" height="34" fill="#FF5252"/>
<rect x="992" y="1218" width="6" height="33" fill="#FFCDD2"/>
<rect x="1000" y="1218" width="6" height="32" fill="#FFCDD2"/>
<rect x="1008" y="1218" width="5" height="29" fill="#FFCDD2"/>
<rect x="1015" y="1218" width="6" height="24" fill="#FFCDD2"/>
<rect x="1023" y="1218" width="5" height="23" fill="#FFCDD2"/>
<rect x="1030" y="1218" width="6" height="17" fill="#FFCDD2"/>
<rect x="1038" y="1218" width="6" height="14" fill="#FFCDD2"/>
<rect x="1046" y="1218" width="5" height="10" fill="#FFCDD2"/>
<rect x="1053" y="1218" width="6" height="6" fill="#FFCDD2"/>
<rect x="1061" y="1218" width="6" height="7" fill="#FF5252"/>
<rect x="1069" y="1218" width="5" height="7" fill="#FF5252"/>
<rect x="1076" y="1218" width="6" height="7" fill="#FFCDD2"/>
<rect x="1084" y="1218" width="6" height="5" fill="#FFCDD2"/>
<rect x="1092" y="1217" width="5" height="3" fill="#26A69A"/>
<rect x="1099" y="1218" width="6" height="2" fill="#B2DFDB"/>
<rect x="1107" y="1217" width="5" height="3" fill="#26A69A"/>
<rect x="1114" y="1217" width="6" height="3" fill="#B2DFDB"/>
<rect x="1122" y="1218" width="6" height="9" fill="#FF5252"/>
<rect x="1130" y="1218" width="5" height="21" fill="#FF5252"/>
<rect x="1137" y="1218" width="6" height="37" fill="#FF5252"/>
<rect x="1145" y="1218" width="6" height="43" fill="#FF5252"/>
<rect x="1153" y="1218" width="5" height="46" fill="#FF5252"/>
<rect x="1160" y="1218" width="6" height="40" fill="#FFCDD2"/>
<rect x="1168" y="1218" width="6" height="16" fill="#FFCDD2"/>
<rect x="1176" y="1218" width="5" height="17" fill="#FF5252"/>
<rect x="1183" y="1218" width="6" height="14" fill="#FFCDD2"/>
<rect x="1191" y="1218" width="6" height="3" fill="#FFCDD2"/>
<rect x="1199" y="1215" width="5" height="5" fill="#26A69A"/>
<rect x="1206" y="1217" width="6" height="3" fill="#B2DFDB"/>
<rect x="1214" y="1218" width="5" height="2" fill="#FF5252"/>
<rect x="1221" y="1218" width="6" height="14" fill="#FF5252"/>
<rect x="1229" y="1218" width="6" height="24" fill="#FF5252"/>
<rect x="1237" y="1218" width="5" height="20" fill="#FFCDD2"/>
<rect x="1244" y="1218" width="6" height="13" fill="#FFCDD2"/>
<rect x="1252" y="1218" width="6" height="13" fill="#FFCDD2"/>
<rect x="1260" y="1218" width="5" height="5" fill="#FFCDD2"/>
<rect x="1267" y="1216" width="6" height="4" fill="#26A69A"/>
<rect x="1275" y="1215" width="6" height="5" fill="#26A69A"/>
<rect x="1283" y="1210" width="5" height="10" fill="#26A69A"/>
<rect x="1290" y="1210" width="6" height="10" fill="#26A69A"/>
<rect x="1298" y="1200" width="5" height="20" fill="#26A69A"/>
<rect x="1305" y="1199" width="6" height="21" fill="#26A69A"/>
<rect x="1313" y="1200" width="6" height="20" fill="#B2DFDB"/>
<rect x="1321" y="1201" width="5" height="19" fill="#B2DFDB"/>
<rect x="1328" y="1196" width="6" height="24" fill="#26A69A"/>
<rect x="1336" y="1191" width="6" height="29" fill="#26A69A"/>
<rect x="1344" y="1189" width="5" height="31" fill="#26A69A"/>
<rect x="1351" y="1190" width="6" height="30" fill="#B2DFDB"/>
<rect x="1359" y="1191" width="6" height="29" fill="#B2DFDB"/>
<rect x="1367" y="1198" width="5" height="22" fill="#B2DFDB"/>
<rect x="1374" y="1208" width="6" height="12" fill="#B2DFDB"/>
<rect x="1382" y="1214" width="6" height="6" fill="#B2DFDB"/>
<rect x="1390" y="1218" width="5" height="2" fill="#B2DFDB"/>
<rect x="1397" y="1214" width="6" height="6" fill="#26A69A"/>
<rect x="1405" y="1218" width="5" height="2" fill="#B2DFDB"/>
<rect x="1412" y="1218" width="6" height="2" fill="#B2DFDB"/>
<rect x="1420" y="1216" width="6" height="4" fill="#26A69A"/>
<rect x="1428" y="1216" width="5" height="4" fill="#26A69A"/>
<rect x="1435" y="1218" width="6" height="9" fill="#FF5252"/>
<rect x="1443" y="1218" width="6" height="13" fill="#FF5252"/>
<rect x="1451" y="1218" width="5" height="21" fill="#FF5252"/>
<rect x="1458" y="1218" width="6" height="11" fill="#FFCDD2"/>
<rect x="1466" y="1218" width="6" height="10" fill="#FFCDD2"/>
<rect x="1474" y="1218" width="5" height="2" fill="#26A69A"/>
<rect x="1481" y="1208" width="6" height="12" fill="#26A69A"/>
<rect x="1489" y="1205" width="5" height="15" fill="#26A69A"/>
<rect x="1496" y="1201" width="6" height="19" fill="#26A69A"/>
<rect x="1504" y="1202" width="6" height="18" fill="#B2DFDB"/>
<rect x="1512" y="1202" width="5" height="18" fill="#26A69A"/>
<rect x="1519" y="1201" width="6" height="19" fill="#26A69A"/>
<rect x="1527" y="1201" width="6" height="19" fill="#B2DFDB"/>
<rect x="1535" y="1201" width="5" height="19" fill="#B2DFDB"/>
<rect x="1542" y="1202" width="6" height="18" fill="#B2DFDB"/>
<rect x="1550" y="1198" width="6" height="22" fill="#26A69A"/>
<rect x="1558" y="1184" width="5" height="36" fill="#26A69A"/>
<rect x="1565" y="1176" width="6" height="44" fill="#26A69A"/>
<rect x="1573" y="1173" width="6" height="47" fill="#26A69A"/>
<rect x="1581" y="1172" width="5" height="48" fill="#26A69A"/>
<rect x="1588" y="1175" width="6" height="45" fill="#B2DFDB"/>
<rect x="1596" y="1181" width="5" height="39" fill="#B2DFDB"/>
<rect x="1603" y="1184" width="6" height="36" fill="#B2DFDB"/>
<rect x="1611" y="1191" width="6" height="29" fill="#B2DFDB"/>
<rect x="1619" y="1197" width="5" height="23" fill="#B2DFDB"/>
<rect x="1626" y="1198" width="6" height="22" fill="#B2DFDB"/>
<rect x="1634" y="1199" width="6" height="21" fill="#B2DFDB"/>
<rect x="1642" y="1205" width="5" height="15" fill="#B2DFDB"/>
<rect x="1649" y="1213" width="6" height="7" fill="#B2DFDB"/>
<rect x="1657" y="1218" width="6" height="2" fill="#B2DFDB"/>
<rect x="1665" y="1217" width="5" height="3" fill="#26A69A"/>
<rect x="1672" y="1218" width="6" height="2" fill="#B2DFDB"/>
<rect x="1680" y="1205" width="5" height="15" fill="#26A69A"/>
<rect x="1687" y="1200" width="6" height="20" fill="#26A69A"/>
<rect x="1695" y="1194" width="6" height="26" fill="#26A69A"/>
<rect x="1703" y="1194" width="5" height="26" fill="#B2DFDB"/>
<rect x="1710" y="1200" width="6" height="20" fill="#B2DFDB"/>
<rect x="1718" y="1202" width="6" height="18" fill="#B2DFDB"/>
<rect x="1726" y="1207" width="5" height="13" fill="#B2DFDB"/>
<rect x="1733" y="1212" width="6" height="8" fill="#B2DFDB"/>
<rect x="1741" y="1217" width="6" height="3" fill="#B2DFDB"/>
<rect x="1749" y="1218" width="5" height="4" fill="#FF5252"/>
<rect x="1756" y="1218" width="6" height="2" fill="#26A69A"/>
<rect x="1764" y="1218" width="6" height="2" fill="#FF5252"/>
<rect x="1772" y="1218" width="5" height="2" fill="#FFCDD2"/>
<rect x="1779" y="1213" width="6" height="7" fill="#26A69A"/>
<rect x="1787" y="1207" width="5" height="13" fill="#26A69A"/>
<rect x="1794" y="1214" width="6" height="6" fill="#B2DFDB"/>
<rect x="1802" y="1218" width="6" height="2" fill="#FF5252"/>
<rect x="1810" y="1218" width="5" height="3" fill="#FF5252"/>
<rect x="1817" y="1218" width="6" height="4" fill="#FF5252"/>
<rect x="1825" y="1218" width="6" height="7" fill="#FF5252"/>
<rect x="1833" y="1218" width="5" height="10" fill="#FF5252"/>
</g>
<line x1="20" y1="1219" x2="1916" y2="1219" stroke="#787B86" stroke-opacity="0.7" stroke-width="2" stroke-dasharray="10 12"/>
<polyline points="17.1,1188.5 24.7,1196.4 32.4,1199.3 40.0,1202.0 47.7,1202.2 55.3,1204.1 62.9,1205.9 70.6,1211.8 78.2,1217.1 85.9,1215.4 93.5,1212.3 101.1,1210.7 108.8,1201.0 116.4,1191.0 124.1,1182.0 131.7,1175.8 139.3,1168.7 147.0,1163.9 154.6,1159.0 162.3,1160.3 169.9,1161.8 177.5,1165.7 185.2,1165.3 192.8,1169.6 200.5,1172.5 208.1,1172.9 215.7,1168.5 223.4,1158.0 231.0,1151.4 238.7,1152.6 246.3,1156.4 253.9,1160.5 261.6,1165.9 269.2,1173.3 276.9,1175.6 284.5,1161.0 292.2,1149.5 299.8,1139.6 307.4,1132.2 315.1,1117.5 322.7,1084.6 330.4,1062.3 338.0,1040.1 345.6,1032.9 353.3,1019.4 360.9,1012.1 368.6,1010.9 376.2,1010.5 383.8,1007.9 391.5,1003.1 399.1,990.4 406.8,981.7 414.4,980.8 422.0,982.1 429.7,999.2 437.3,1017.9 445.0,1024.3 452.6,1032.2 460.2,1035.6 467.9,1043.1 475.5,1049.0 483.2,1059.2 490.8,1069.0 498.4,1070.9 506.1,1078.6 513.7,1078.7 521.4,1080.0 529.0,1079.4 536.6,1090.5 544.3,1102.7 551.9,1101.4 559.6,1104.6 567.2,1104.6 574.8,1105.9 582.5,1100.0 590.1,1092.5 597.8,1087.7 605.4,1101.8 613.0,1121.4 620.7,1136.9 628.3,1151.3 636.0,1169.1 643.6,1184.4 651.2,1186.7 658.9,1186.8 666.5,1197.0 674.2,1209.3 681.8,1216.3 689.4,1226.1 697.1,1236.3 704.7,1241.7 712.4,1243.0 720.0,1237.4 727.6,1229.6 735.3,1223.2 742.9,1217.8 750.6,1203.1 758.2,1206.0 765.8,1213.8 773.5,1226.6 781.1,1230.6 788.8,1234.0 796.4,1236.6 804.1,1238.4 811.7,1234.2 819.3,1220.0 827.0,1210.4 834.6,1191.8 842.3,1176.2 849.9,1173.3 857.5,1169.0 865.2,1155.6 872.8,1152.5 880.5,1150.2 888.1,1146.6 895.7,1145.0 903.4,1150.4 911.0,1156.8 918.7,1164.6 926.3,1164.8 933.9,1163.0 941.6,1168.5 949.2,1178.1 956.9,1194.0 964.5,1196.9 972.1,1209.1 979.8,1221.9 987.4,1232.0 995.1,1239.9 1002.7,1246.0 1010.3,1250.4 1018.0,1251.0 1025.6,1255.5 1033.3,1252.9 1040.9,1253.9 1048.5,1251.9 1056.2,1249.7 1063.8,1251.7 1071.5,1253.7 1079.1,1255.3 1086.7,1253.3 1094.4,1246.9 1102.0,1247.4 1109.7,1246.4 1117.3,1246.2 1124.9,1258.0 1132.6,1275.1 1140.2,1299.9 1147.9,1317.0 1155.5,1330.3 1163.1,1334.9 1170.8,1314.9 1178.4,1319.8 1186.1,1319.8 1193.7,1309.6 1201.3,1302.3 1209.0,1304.2 1216.6,1306.2 1224.3,1321.8 1231.9,1338.5 1239.5,1338.5 1247.2,1335.2 1254.8,1338.1 1262.5,1331.3 1270.1,1323.7 1277.7,1321.4 1285.4,1314.5 1293.0,1311.5 1300.7,1296.9 1308.3,1291.6 1316.0,1287.0 1323.6,1283.4 1331.2,1273.4 1338.9,1261.4 1346.5,1251.9 1354.2,1245.3 1361.8,1239.1 1369.4,1241.5 1377.1,1248.0 1384.7,1253.4 1392.4,1256.8 1400.0,1251.9 1407.6,1254.9 1415.3,1254.9 1422.9,1252.7 1430.6,1251.6 1438.2,1264.1 1445.8,1271.5 1453.5,1284.2 1461.1,1276.6 1468.8,1277.9 1476.4,1268.0 1484.0,1254.7 1491.7,1248.0 1499.3,1240.3 1507.0,1236.5 1514.6,1232.2 1522.2,1226.3 1529.9,1222.7 1537.5,1218.3 1545.2,1214.6 1552.8,1205.6 1560.4,1182.5 1568.1,1164.2 1575.7,1149.7 1583.4,1137.4 1591.0,1128.6 1598.6,1125.1 1606.3,1120.1 1613.9,1119.2 1621.6,1120.0 1629.2,1115.4 1636.8,1112.0 1644.5,1114.0 1652.1,1120.3 1659.8,1125.2 1667.4,1124.3 1675.0,1124.2 1682.7,1108.5 1690.3,1098.1 1698.0,1086.3 1705.6,1080.3 1713.2,1081.0 1720.9,1079.5 1728.5,1081.5 1736.2,1083.9 1743.8,1088.3 1751.4,1094.1 1759.1,1091.1 1766.7,1092.6 1774.4,1091.7 1782.0,1084.4 1789.6,1075.1 1797.3,1081.4 1804.9,1086.7 1812.6,1088.8 1820.2,1090.8 1827.9,1095.2 1835.5,1100.8" fill="none" stroke="#2962FF" stroke-width="2" stroke-linejoin="round"/>
<polyline points="17.1,1177.7 24.7,1181.4 32.4,1185.0 40.0,1188.4 47.7,1191.2 55.3,1193.8 62.9,1196.2 70.6,1199.3 78.2,1202.9 85.9,1205.4 93.5,1206.8 101.1,1207.5 108.8,1206.2 116.4,1203.2 124.1,1198.9 131.7,1194.3 139.3,1189.2 147.0,1184.1 154.6,1179.1 162.3,1175.3 169.9,1172.6 177.5,1171.2 185.2,1170.0 192.8,1170.0 200.5,1170.5 208.1,1170.9 215.7,1170.5 223.4,1168.0 231.0,1164.7 238.7,1162.2 246.3,1161.1 253.9,1161.0 261.6,1162.0 269.2,1164.2 276.9,1166.5 284.5,1165.4 292.2,1162.2 299.8,1157.7 307.4,1152.6 315.1,1145.6 322.7,1133.4 330.4,1119.2 338.0,1103.4 345.6,1089.3 353.3,1075.3 360.9,1062.7 368.6,1052.3 376.2,1043.9 383.8,1036.7 391.5,1030.0 399.1,1022.1 406.8,1014.0 414.4,1007.4 422.0,1002.3 429.7,1001.7 437.3,1004.9 445.0,1008.8 452.6,1013.5 460.2,1017.9 467.9,1022.9 475.5,1028.2 483.2,1034.4 490.8,1041.3 498.4,1047.2 506.1,1053.5 513.7,1058.5 521.4,1062.8 529.0,1066.1 536.6,1071.0 544.3,1077.3 551.9,1082.1 559.6,1086.6 567.2,1090.2 574.8,1093.4 582.5,1094.7 590.1,1094.3 597.8,1093.0 605.4,1094.7 613.0,1100.1 620.7,1107.4 628.3,1116.2 636.0,1126.8 643.6,1138.3 651.2,1148.0 658.9,1155.8 666.5,1164.0 674.2,1173.1 681.8,1181.7 689.4,1190.6 697.1,1199.7 704.7,1208.1 712.4,1215.1 720.0,1219.6 727.6,1221.6 735.3,1221.9 742.9,1221.1 750.6,1217.5 758.2,1215.2 765.8,1214.9 773.5,1217.2 781.1,1219.9 788.8,1222.7 796.4,1225.5 804.1,1228.1 811.7,1229.3 819.3,1227.4 827.0,1224.0 834.6,1217.6 842.3,1209.3 849.9,1202.1 857.5,1195.5 865.2,1187.5 872.8,1180.5 880.5,1174.4 888.1,1168.9 895.7,1164.1 903.4,1161.4 911.0,1160.4 918.7,1161.3 926.3,1162.0 933.9,1162.2 941.6,1163.4 949.2,1166.4 956.9,1171.9 964.5,1176.9 972.1,1183.3 979.8,1191.1 987.4,1199.2 995.1,1207.4 1002.7,1215.1 1010.3,1222.2 1018.0,1227.9 1025.6,1233.4 1033.3,1237.3 1040.9,1240.7 1048.5,1242.9 1056.2,1244.3 1063.8,1245.7 1071.5,1247.3 1079.1,1248.9 1086.7,1249.8 1094.4,1249.2 1102.0,1248.9 1109.7,1248.4 1117.3,1247.9 1124.9,1249.9 1132.6,1255.0 1140.2,1264.0 1147.9,1274.6 1155.5,1285.7 1163.1,1295.5 1170.8,1299.4 1178.4,1303.5 1186.1,1306.8 1193.7,1307.3 1201.3,1306.3 1209.0,1305.9 1216.6,1306.0 1224.3,1309.1 1231.9,1315.0 1239.5,1319.7 1247.2,1322.8 1254.8,1325.8 1262.5,1326.9 1270.1,1326.3 1277.7,1325.3 1285.4,1323.2 1293.0,1320.8 1300.7,1316.0 1308.3,1311.2 1316.0,1306.3 1323.6,1301.7 1331.2,1296.1 1338.9,1289.1 1346.5,1281.7 1354.2,1274.4 1361.8,1267.4 1369.4,1262.2 1377.1,1259.3 1384.7,1258.2 1392.4,1257.9 1400.0,1256.7 1407.6,1256.3 1415.3,1256.1 1422.9,1255.4 1430.6,1254.6 1438.2,1256.5 1445.8,1259.5 1453.5,1264.5 1461.1,1266.9 1468.8,1269.1 1476.4,1268.9 1484.0,1266.0 1491.7,1262.4 1499.3,1258.0 1507.0,1253.7 1514.6,1249.4 1522.2,1244.8 1529.9,1240.4 1537.5,1236.0 1545.2,1231.7 1552.8,1226.5 1560.4,1217.7 1568.1,1207.0 1575.7,1195.5 1583.4,1183.9 1591.0,1172.8 1598.6,1163.3 1606.3,1154.6 1613.9,1147.5 1621.6,1142.0 1629.2,1136.7 1636.8,1131.8 1644.5,1128.2 1652.1,1126.6 1659.8,1126.3 1667.4,1125.9 1675.0,1125.6 1682.7,1122.2 1690.3,1117.4 1698.0,1111.2 1705.6,1105.0 1713.2,1100.2 1720.9,1096.0 1728.5,1093.1 1736.2,1091.3 1743.8,1090.7 1751.4,1091.4 1759.1,1091.3 1766.7,1091.6 1774.4,1091.6 1782.0,1090.1 1789.6,1087.1 1797.3,1086.0 1804.9,1086.1 1812.6,1086.7 1820.2,1087.5 1827.9,1089.0 1835.5,1091.4" fill="none" stroke="#FF6D00" stroke-width="2" stroke-linejoin="round"/>
</g>
<text x="1933.95" y="872.50" font-size="24.5" fill="#131722" textLength="119.86" lengthAdjust="spacingAndGlyphs">60,000.00</text>
<text x="1933.95" y="802.48" font-size="24.5" fill="#131722" textLength="119.86" lengthAdjust="spacingAndGlyphs">65,000.00</text>
<text x="1933.93" y="732.46" font-size="24.5" fill="#131722" textLength="119.89" lengthAdjust="spacingAndGlyphs">70,000.00</text>
<text x="1933.93" y="662.44" font-size="24.5" fill="#131722" textLength="119.89" lengthAdjust="spacingAndGlyphs">75,000.00</text>
<text x="1934.14" y="592.42" font-size="24.5" fill="#131722" textLength="119.67" lengthAdjust="spacingAndGlyphs">80,000.00</text>
<text x="1934.14" y="522.40" font-size="24.5" fill="#131722" textLength="119.67" lengthAdjust="spacingAndGlyphs">85,000.00</text>
<text x="1934.06" y="452.38" font-size="24.5" fill="#131722" textLength="119.75" lengthAdjust="spacingAndGlyphs">90,000.00</text>
<text x="1934.06" y="382.36" font-size="24.5" fill="#131722" textLength="119.75" lengthAdjust="spacingAndGlyphs">95,000.00</text>
<text x="1934.46" y="312.34" font-size="24.5" fill="#131722" textLength="134.26" lengthAdjust="spacingAndGlyphs">100,000.00</text>
<text x="1934.46" y="242.32" font-size="24.5" fill="#131722" textLength="134.26" lengthAdjust="spacingAndGlyphs">105,000.00</text>
<text x="1934.43" y="172.30" font-size="24.5" fill="#131722" textLength="134.30" lengthAdjust="spacingAndGlyphs">110,000.00</text>
<text x="1934.43" y="102.28" font-size="24.5" fill="#131722" textLength="134.30" lengthAdjust="spacingAndGlyphs">115,000.00</text>
<text x="1934.19" y="1361.10" font-size="24.5" fill="#131722" textLength="119.54" lengthAdjust="spacingAndGlyphs">−4,000.00</text>
<text x="1934.19" y="1293.25" font-size="24.5" fill="#131722" textLength="119.54" lengthAdjust="spacingAndGlyphs">−2,000.00</text>
<text x="1934.27" y="1225.40" font-size="24.5" fill="#131722" textLength="51.55" lengthAdjust="spacingAndGlyphs">0.00</text>
<text x="1933.95" y="1157.55" font-size="24.5" fill="#131722" textLength="104.78" lengthAdjust="spacingAndGlyphs">2,000.00</text>
<text x="1934.71" y="1089.70" font-size="24.5" fill="#131722" textLength="104.02" lengthAdjust="spacingAndGlyphs">4,000.00</text>
<text x="1933.95" y="1021.85" font-size="24.5" fill="#131722" textLength="104.78" lengthAdjust="spacingAndGlyphs">6,000.00</text>
<text x="1934.14" y="954.00" font-size="24.5" fill="#131722" textLength="104.59" lengthAdjust="spacingAndGlyphs">8,000.00</text>
<path d="M1918,167h158a4,4 0 0 1 4,4v54a4,4 0 0 1 -4,4h-158z" fill="#B61DF2"/>
<text x="1934.36" y="190.80" font-size="24.5" fill="#fff" textLength="134.61" lengthAdjust="spacingAndGlyphs">108,723.29</text>
<text x="1934.36" y="217.80" font-size="24.5" fill="#fff" fill-opacity="0.72" textLength="104.51" lengthAdjust="spacingAndGlyphs">14:18:36</text>
<path d="M1918,900h95a3,3 0 0 1 3,3v27.5a3,3 0 0 1 -3,3h-95z" fill="#EF5350"/>
<text x="1934.83" y="924.90" font-size="24.5" fill="#fff" textLength="50.08" lengthAdjust="spacingAndGlyphs">4.33</text>
<text x="1989.84" y="924.90" font-size="24.5" fill="#fff" textLength="15.11" lengthAdjust="spacingAndGlyphs">K</text>
<path d="M1918,1050h129a3,3 0 0 1 3,3v28a3,3 0 0 1 -3,3h-129z" fill="#FF6D00"/>
<text x="1934.79" y="1073.50" font-size="24.5" fill="#fff" textLength="103.62" lengthAdjust="spacingAndGlyphs">3,754.05</text>
<path d="M1918,1084h129a3,3 0 0 1 3,3v27.700000000000003a3,3 0 0 1 -3,3h-129z" fill="#2962FF"/>
<text x="1934.80" y="1108.00" font-size="24.5" fill="#fff" textLength="102.84" lengthAdjust="spacingAndGlyphs">3,479.17</text>
<path d="M1918,1211h121a3,3 0 0 1 3,3v27.700000000000003a3,3 0 0 1 -3,3h-121z" fill="#FF5252"/>
<text x="1934.19" y="1236.90" font-size="24.5" fill="#fff" textLength="97.05" lengthAdjust="spacingAndGlyphs">−274.87</text>
<text x="222.65" y="1414.20" font-size="24.5" fill="#131722" textLength="45.48" lengthAdjust="spacingAndGlyphs">Nov</text>
<text x="452.46" y="1414.20" font-size="24.5" fill="#131722" textLength="46.43" lengthAdjust="spacingAndGlyphs">Dec</text>
<text x="680.70" y="1414.20" font-size="24.5" fill="#131722" font-weight="bold" textLength="65.21" lengthAdjust="spacingAndGlyphs">2025</text>
<text x="926.85" y="1414.20" font-size="24.5" fill="#131722" textLength="44.05" lengthAdjust="spacingAndGlyphs">Feb</text>
<text x="1140.61" y="1414.20" font-size="24.5" fill="#131722" textLength="43.90" lengthAdjust="spacingAndGlyphs">Mar</text>
<text x="1381.00" y="1414.20" font-size="24.5" fill="#131722" textLength="39.16" lengthAdjust="spacingAndGlyphs">Apr</text>
<text x="1604.75" y="1414.20" font-size="24.5" fill="#131722" textLength="47.31" lengthAdjust="spacingAndGlyphs">May</text>
<text x="1846.67" y="1414.20" font-size="24.5" fill="#131722" textLength="40.70" lengthAdjust="spacingAndGlyphs">Jun</text>
<text x="35.44" y="93.80" font-size="24.5" fill="#131722" textLength="79.16" lengthAdjust="spacingAndGlyphs">Bitcoin</text>
<line x1="121.2" y1="97.2" x2="130.0" y2="76.4" stroke="#131722" stroke-width="2.1"/>
<text x="136.25" y="93.80" font-size="24.5" fill="#131722" textLength="103.58" lengthAdjust="spacingAndGlyphs">TetherUS</text>
<circle cx="249.6" cy="87.4" r="1.8" fill="#131722"/>
<text x="260.74" y="93.80" font-size="24.5" fill="#131722" textLength="28.00" lengthAdjust="spacingAndGlyphs">1D</text>
<circle cx="299.2" cy="87.4" r="1.8" fill="#131722"/>
<text x="309.87" y="93.80" font-size="24.5" fill="#131722" textLength="104.83" lengthAdjust="spacingAndGlyphs">BINANCE</text>
<text x="428.49" y="93.80" font-size="24.5" fill="#B41EF0" textLength="125.48" lengthAdjust="spacingAndGlyphs">108,723.29</text>
<text x="568.07" y="93.80" font-size="24.5" fill="#B41EF0" textLength="91.42" lengthAdjust="spacingAndGlyphs">−214.88</text>
<text x="667.82" y="93.80" font-size="24.5" fill="#B41EF0" textLength="104.17" lengthAdjust="spacingAndGlyphs">(−0.20%)</text>
<text x="37.50" y="127.30" font-size="24.5" fill="#131722" textLength="33.91" lengthAdjust="spacingAndGlyphs">Vol</text>
<circle cx="81.7" cy="120.9" r="1.8" fill="#131722"/>
<text x="91.67" y="127.30" font-size="24.5" fill="#131722" textLength="47.00" lengthAdjust="spacingAndGlyphs">BTC</text>
<text x="153.75" y="127.30" font-size="24.5" fill="#EF5350" textLength="49.05" lengthAdjust="spacingAndGlyphs">4.33</text>
<text x="206.46" y="127.30" font-size="24.5" fill="#EF5350" textLength="15.80" lengthAdjust="spacingAndGlyphs">K</text>
<text x="35.11" y="975.90" font-size="24.5" fill="#131722" textLength="71.33" lengthAdjust="spacingAndGlyphs">MACD</text>
<text x="115.69" y="975.90" font-size="24.5" fill="#131722" textLength="39.27" lengthAdjust="spacingAndGlyphs">(12,</text>
<text x="162.28" y="975.90" font-size="24.5" fill="#131722" textLength="34.03" lengthAdjust="spacingAndGlyphs">26,</text>
<text x="204.20" y="975.90" font-size="24.5" fill="#131722" textLength="69.84" lengthAdjust="spacingAndGlyphs">close)</text>
<text x="286.96" y="975.90" font-size="24.5" fill="#FF5252" textLength="92.53" lengthAdjust="spacingAndGlyphs">−274.87</text>
<text x="393.17" y="975.90" font-size="24.5" fill="#2962FF" textLength="95.06" lengthAdjust="spacingAndGlyphs">3,479.17</text>
<text x="501.43" y="975.90" font-size="24.5" fill="#FF6D00" textLength="99.02" lengthAdjust="spacingAndGlyphs">3,754.05</text>
<circle cx="1836.0" cy="908.8" r="22.6" fill="#fff"/>
<circle cx="1836.0" cy="908.8" r="19.5" fill="#fff" stroke="#9C27B0" stroke-width="3"/>
<polygon points="1841.03,898.08 1842.66,899.34 1837.07,908.20 1844.99,908.20 1831.01,919.98 1829.29,918.59 1835.67,909.73 1827.19,909.73" fill="#9C27B0"/>
<text x="19.90" y="39.70" font-size="24.5" fill="#101114" textLength="178.49" lengthAdjust="spacingAndGlyphs">scottmatherson</text>
<text x="204.13" y="39.70" font-size="24.5" fill="#101114" textLength="111.54" lengthAdjust="spacingAndGlyphs">published</text>
<text x="322.01" y="39.70" font-size="24.5" fill="#101114" textLength="28.75" lengthAdjust="spacingAndGlyphs">on</text>
<text x="357.24" y="39.70" font-size="24.5" fill="#101114" textLength="199.62" lengthAdjust="spacingAndGlyphs">TradingView.com,</text>
<text x="563.03" y="39.70" font-size="24.5" fill="#101114" textLength="45.42" lengthAdjust="spacingAndGlyphs">May</text>
<text x="617.44" y="39.70" font-size="24.5" fill="#101114" textLength="35.14" lengthAdjust="spacingAndGlyphs">28,</text>
<text x="659.37" y="39.70" font-size="24.5" fill="#101114" textLength="59.14" lengthAdjust="spacingAndGlyphs">2025</text>
<text x="725.81" y="39.70" font-size="24.5" fill="#101114" textLength="63.83" lengthAdjust="spacingAndGlyphs">09:41</text>
<text x="796.47" y="39.70" font-size="24.5" fill="#101114" textLength="48.81" lengthAdjust="spacingAndGlyphs">UTC</text>
<g fill="#131722">
<path d="M19.9,1456.3H34.9V1475.2H27.5V1463.4H19.9z"/>
<circle cx="42.3" cy="1460.6" r="4.3"/>
<path d="M49.1,1456.3H59.1L50.9,1475.2H42.4z"/>
</g>
<text x="66.61" y="1476.60" font-size="26.5" fill="#131722" textLength="147.91" lengthAdjust="spacingAndGlyphs">TradingView</text>
</svg>
</body></html>
